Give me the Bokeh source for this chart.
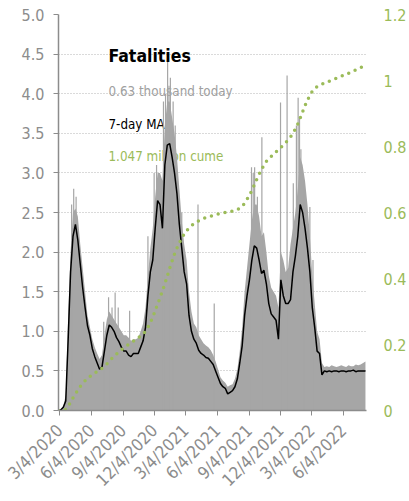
from datetime import date
from math import pi

from bokeh.plotting import figure
from bokeh.models import (Range1d, LinearAxis, FixedTicker, Label,
                          ColumnDataSource)
from bokeh.embed import file_html
from bokeh.resources import INLINE

# ---------------- data ----------------
START = date(2020, 3, 1)          # first weekly sample
END = date(2022, 8, 10)           # right end of the axis
STEP_DAYS = 7                     # samples are weekly

# 7-day moving average of daily fatalities, thousands
ma_7day = [
    0.0, 0.01, 0.04, 0.12, 0.9, 1.75, 2.2, 2.35, 2.15, 1.85,
    1.55, 1.3, 1.07, 0.95, 0.78, 0.68, 0.6, 0.52, 0.55, 0.75,
    0.95, 1.08, 1.05, 1.0, 0.92, 0.87, 0.8, 0.75, 0.75, 0.7,
    0.68, 0.72, 0.72, 0.72, 0.8, 0.88, 1.05, 1.45, 1.75, 1.9,
    2.3, 2.65, 2.6, 2.3, 3.1, 3.35, 3.37, 3.2, 3.0, 2.74,
    2.35, 2.05, 1.75, 1.6, 1.2, 1.0, 0.9, 0.85, 0.76, 0.72,
    0.7, 0.67, 0.66, 0.62, 0.58, 0.5, 0.42, 0.34, 0.3, 0.28,
    0.21, 0.23, 0.25, 0.3, 0.4, 0.6, 0.82, 1.2, 1.45, 1.65,
    1.9, 2.08, 2.05, 1.9, 1.73, 1.77, 1.6, 1.35, 1.22, 1.18,
    1.14, 0.9, 1.65, 1.45, 1.35, 1.35, 1.4, 1.75, 1.95, 2.2,
    2.6, 2.5, 2.3, 2.05, 1.75, 1.3, 1.05, 0.75, 0.72, 0.45,
    0.5, 0.49, 0.5, 0.49, 0.5, 0.5, 0.49, 0.5, 0.5, 0.49,
    0.5, 0.5, 0.51, 0.49, 0.5, 0.5, 0.5, 0.5,
]

# typical level of the daily counts (solid grey), thousands
daily_level = [
    0.0, 0.02, 0.06, 0.2, 1.2, 2.0, 2.5, 2.55, 2.45, 2.1,
    1.8, 1.5, 1.2, 1.05, 0.9, 0.8, 0.72, 0.65, 0.7, 0.95,
    1.15, 1.25, 1.2, 1.15, 1.1, 1.05, 1.0, 0.95, 0.95, 0.92,
    0.88, 0.9, 0.9, 0.92, 1.0, 1.1, 1.3, 1.7, 2.05, 2.3,
    2.7, 3.0, 3.0, 2.9, 3.6, 3.9, 3.9, 3.7, 3.5, 3.2,
    2.8, 2.4, 2.1, 1.9, 1.5, 1.25, 1.1, 1.05, 0.95, 0.9,
    0.85, 0.82, 0.8, 0.76, 0.7, 0.62, 0.52, 0.42, 0.38, 0.35,
    0.3, 0.32, 0.33, 0.4, 0.52, 0.75, 1.05, 1.5, 1.8, 2.1,
    2.4, 2.6, 2.6, 2.45, 2.2, 2.25, 2.0, 1.7, 1.55, 1.5,
    1.45, 1.3, 2.0, 1.9, 1.75, 1.8, 2.1, 2.3, 2.5, 2.8,
    3.2, 3.1, 2.9, 2.6, 2.2, 1.7, 1.35, 1.0, 0.9, 0.6,
    0.55, 0.56, 0.55, 0.57, 0.56, 0.55, 0.56, 0.57, 0.56, 0.55,
    0.57, 0.56, 0.56, 0.58, 0.57, 0.58, 0.6, 0.62,
]

# cumulative fatalities, millions (right axis)
cume_millions = [
    0.0, 0.0, 0.001, 0.003, 0.012, 0.025, 0.038, 0.05, 0.062, 0.073,
    0.082, 0.09, 0.097, 0.103, 0.109, 0.114, 0.118, 0.123, 0.128, 0.134,
    0.141, 0.149, 0.157, 0.164, 0.171, 0.178, 0.184, 0.19, 0.195, 0.2,
    0.205, 0.21, 0.215, 0.22, 0.226, 0.232, 0.24, 0.252, 0.266, 0.283,
    0.302, 0.322, 0.342, 0.362, 0.384, 0.407, 0.431, 0.453, 0.474, 0.492,
    0.508, 0.522, 0.535, 0.545, 0.553, 0.56, 0.566, 0.571, 0.575, 0.579,
    0.582, 0.585, 0.587, 0.589, 0.591, 0.593, 0.595, 0.597, 0.598, 0.6,
    0.601, 0.602, 0.604, 0.606, 0.609, 0.613, 0.619, 0.628, 0.64, 0.652,
    0.667, 0.683, 0.7, 0.716, 0.73, 0.744, 0.755, 0.763, 0.77, 0.777,
    0.784, 0.79, 0.797, 0.805, 0.812, 0.82, 0.829, 0.84, 0.853, 0.868,
    0.886, 0.905, 0.924, 0.94, 0.955, 0.967, 0.976, 0.981, 0.985, 0.989,
    0.992, 0.995, 0.998, 1.001, 1.004, 1.007, 1.01, 1.013, 1.016, 1.019,
    1.022, 1.025, 1.029, 1.032, 1.036, 1.039, 1.043, 1.047,
]

# individual daily spikes above the typical level, thousands
spike_dates = [
    "2020-04-08", "2020-04-14", "2020-04-21", "2020-07-10", "2020-07-24",
    "2020-08-03", "2020-08-12", "2020-08-21", "2020-09-23", "2020-11-15",
    "2020-12-03", "2020-12-10", "2020-12-30", "2021-01-05", "2021-01-11",
    "2021-01-15", "2021-01-19", "2021-01-27", "2021-02-02", "2021-02-21",
    "2021-04-09", "2021-05-26", "2021-09-11", "2021-09-16", "2021-09-20",
    "2021-09-28", "2021-10-11", "2021-12-04", "2021-12-23", "2022-01-10",
    "2022-01-19", "2022-01-24", "2022-01-28", "2022-02-01", "2022-02-09",
    "2022-02-27", "2022-03-08",
]
spike_values = [
    2.6, 2.8, 2.7, 1.12, 1.43,
    1.3, 1.49, 1.3, 1.26, 2.2,
    3.0, 3.1, 3.9, 4.0, 4.4,
    4.1, 4.2, 3.9, 3.6, 2.5,
    2.6, 1.35, 3.07, 3.0, 3.07,
    2.7, 3.45, 3.89, 4.23, 2.87,
    3.6, 3.95, 3.7, 3.3, 2.9,
    2.57, 1.9,
]

x_tick_labels = ["3/4/2020", "6/4/2020", "9/4/2020", "12/4/2020",
                 "3/4/2021", "6/4/2021", "9/4/2021", "12/4/2021",
                 "3/4/2022", "6/4/2022"]
left_ticks = [0.0, 0.5, 1.0, 1.5, 2.0, 2.5, 3.0, 3.5, 4.0, 4.5, 5.0]
right_ticks = [0.0, 0.2, 0.4, 0.6, 0.8, 1.0, 1.2]
right_tick_labels = ["0", "0.2", "0.4", "0.6", "0.8", "1", "1.2"]

title_text = "Fatalities"
today_text = "0.63 thousand today"
ma_text = "7-day MA"
cume_text = "1.047 million cume"

# ---------------- helpers ----------------
def day_of(s):
    if "/" in s:
        m, d, y = s.split("/")
    else:
        y, m, d = s.split("-")
    return (date(int(y), int(m), int(d)) - START).days

x_weeks = [i * STEP_DAYS for i in range(len(ma_7day))]
x_end = (END - START).days

FONT = "DejaVu Sans Condensed"
GREEN = "#9bbb59"
AXGRAY = "#8c8c8c"
FILL = "#a6a6a6"

p = figure(width=409, height=501, output_backend="svg", toolbar_location=None,
           x_range=Range1d(0, x_end), y_range=Range1d(0, 5.0),
           min_border_left=58, min_border_top=14, min_border_right=34,
           min_border_bottom=91)
p.outline_line_color = None
p.background_fill_color = "white"
p.xgrid.visible = False
p.ygrid.grid_line_color = "#b4b4b4"
p.ygrid.grid_line_dash = "1 2"
p.ygrid.grid_line_width = 1
p.ygrid.ticker = FixedTicker(ticks=left_ticks)

# texts, behind the data
for txt, color, y, size, style in [
        (title_text, "black", 355, "17.5px", "bold"),
        (today_text, "#a0a0a0", 319, "13.3px", "normal"),
        (ma_text, "black", 286, "13.3px", "normal"),
        (cume_text, GREEN, 254, "13.3px", "normal")]:
    p.add_layout(Label(x=50, y=y, x_units="screen", y_units="screen",
                       text=txt, text_color=color, text_font=FONT,
                       text_font_size=size, text_font_style=style,
                       text_baseline="alphabetic", level="underlay"))

src = ColumnDataSource(dict(x=x_weeks, ma=ma_7day, lvl=daily_level,
                            cume=cume_millions))
p.varea(x="x", y1=0, y2="lvl", source=src, fill_color=FILL)
sp = ColumnDataSource(dict(x=[day_of(s) for s in spike_dates], top=spike_values))
p.segment(x0="x", y0=0, x1="x", y1="top", source=sp, line_color=FILL,
          line_width=1.2)
p.line(x="x", y="ma", source=src, line_color="black", line_width=1.5)

p.extra_y_ranges = {"cume": Range1d(0, 1.2)}
p.line(x="x", y="cume", source=src, y_range_name="cume", line_color=GREEN,
       line_width=3.5, line_dash="0 7", line_cap="round")

# axes
xa = p.xaxis[0]
xa.ticker = FixedTicker(ticks=[day_of(s) for s in x_tick_labels])
xa.major_label_overrides = {day_of(s): s for s in x_tick_labels}
xa.major_label_orientation = pi / 4
xa.axis_line_color = AXGRAY
xa.axis_line_width = 1.5
xa.major_tick_line_color = AXGRAY
xa.major_tick_out = 5
xa.major_tick_in = 0
xa.minor_tick_line_color = None
xa.major_label_text_color = AXGRAY
xa.major_label_text_font = FONT
xa.major_label_text_font_size = "17px"
xa.major_label_standoff = 12

ya = p.yaxis[0]
ya.ticker = FixedTicker(ticks=left_ticks)
ya.major_label_overrides = {t: f"{t:.1f}" for t in left_ticks}
ya.axis_line_color = AXGRAY
ya.axis_line_width = 1.5
ya.major_tick_line_color = AXGRAY
ya.major_tick_out = 5
ya.major_tick_in = 0
ya.minor_tick_line_color = None
ya.major_label_text_color = AXGRAY
ya.major_label_text_font = FONT
ya.major_label_text_font_size = "16px"
ya.major_label_standoff = 9

ra = LinearAxis(y_range_name="cume")
ra.ticker = FixedTicker(ticks=right_ticks)
ra.major_label_overrides = dict(zip(right_ticks, right_tick_labels))
ra.axis_line_color = None
ra.major_tick_line_color = None
ra.minor_tick_line_color = None
ra.major_label_text_color = GREEN
ra.major_label_text_font = FONT
ra.major_label_text_font_size = "16px"
ra.major_label_standoff = 11
p.add_layout(ra, "right")

open("out.html", "w").write(file_html(p, INLINE))
